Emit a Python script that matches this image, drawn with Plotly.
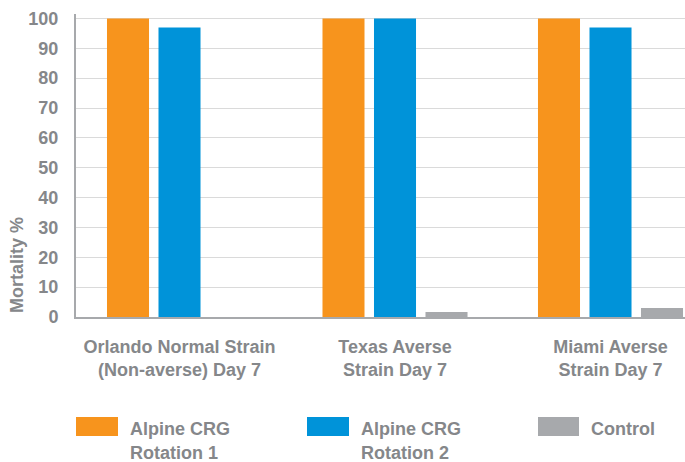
import plotly.graph_objects as go

categories = ["Orlando Normal Strain<br>(Non-averse) Day 7",
              "Texas Averse<br>Strain Day 7",
              "Miami Averse<br>Strain Day 7"]
series_names = ["Alpine CRG Rotation 1", "Alpine CRG Rotation 2", "Control"]
rotation1 = [100, 100, 100]
rotation2 = [97, 100, 97]
control = [0, 1.7, 3]
y_ticks = [0, 10, 20, 30, 40, 50, 60, 70, 80, 90, 100]

colors = ["#F7941D", "#0093D9", "#A7A9AC"]
text_color = "#85878A"
FONT = "Liberation Sans, Arial, sans-serif"

fig = go.Figure()
for name, vals, col in zip(series_names, [rotation1, rotation2, control], colors):
    fig.add_trace(go.Bar(x=categories, y=vals, name=name, marker_color=col,
                         marker_line_width=0, showlegend=False, hoverinfo="skip"))

fig.update_layout(
    width=685, height=462,
    margin=dict(l=76, r=0, t=14, b=145),
    plot_bgcolor="white", paper_bgcolor="white",
    barmode="group", bargap=0.283, bargroupgap=0.184,
    font=dict(family=FONT, size=18, color=text_color),
    xaxis=dict(range=[-0.4803, 2.3457], showgrid=False, showline=True,
               linecolor="#A7A9AC", linewidth=2, ticks="",
               tickfont=dict(family=FONT, size=18, color=text_color, weight="bold"),
               ticklabelstandoff=12),
    yaxis=dict(range=[0, 101.5], tickvals=y_ticks, showgrid=True,
               gridcolor="#DADADA", gridwidth=1, showline=True,
               linecolor="#A7A9AC", linewidth=2, ticks="", zeroline=False,
               tickfont=dict(family=FONT, size=18, color=text_color, weight="bold"),
               ticklabelstandoff=12),
)

# y-axis title placed low as in the reference
fig.add_annotation(text="Mortality %", xref="paper", yref="paper",
                   x=-0.0969, y=0.1716, textangle=-90, showarrow=False,
                   font=dict(family=FONT, size=18, color=text_color, weight="bold"),
                   xanchor="center", yanchor="middle")

# custom legend (large swatches)
legend_items = [
    (76, 118, ["Alpine CRG", "Rotation 1"]),
    (307, 349, ["Alpine CRG", "Rotation 2"]),
    (538, 579, ["Control"]),
]
pl, pt, pw, ph = 76, 14, 609, 303
def px2x(px):
    return (px - pl) / pw
def py2y(py):
    return (pt + ph - py) / ph

for (x0, x1, lines), col in zip(legend_items, colors):
    fig.add_shape(type="rect", xref="paper", yref="paper",
                  x0=px2x(x0), x1=px2x(x1), y0=py2y(436), y1=py2y(417),
                  fillcolor=col, line_width=0)
    for i, ln in enumerate(lines):
        fig.add_annotation(text=ln, xref="paper", yref="paper",
                           x=px2x(x1 + 10), y=py2y(429 + 24 * i),
                           xanchor="left", yanchor="middle", showarrow=False,
                           font=dict(family=FONT, size=18, color=text_color, weight="bold"))

fig.write_html("out.html", config={"displayModeBar": False},
               post_script="document.body.style.margin='0';document.body.style.overflow='hidden';")
